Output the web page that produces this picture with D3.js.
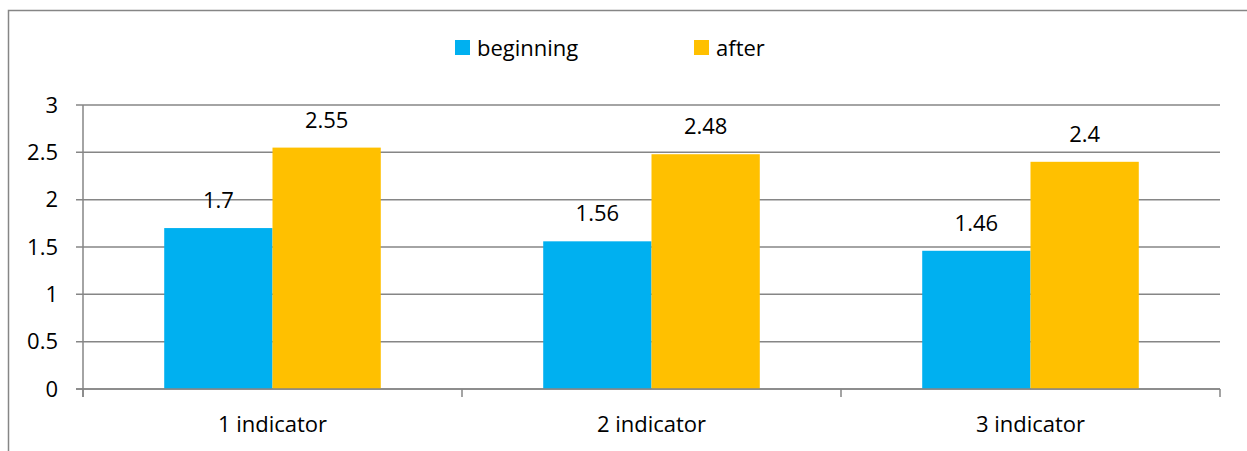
<!DOCTYPE html>
<html>
<head>
<meta charset="utf-8">
<script src="https://cdn.jsdelivr.net/npm/d3@7"></script>
<style>
  body { margin: 0; background: #fff; }
  text { font-family: "Open Sans", Lato, sans-serif; fill: #000; }
</style>
</head>
<body>
<script>
"use strict"

// chart data
const categories = ["1 indicator", "2 indicator", "3 indicator"]
const seriesNames = ["beginning", "after"]
const beginning = [1.7, 1.56, 1.46]
const after = [2.55, 2.48, 2.4]
const yTicks = [0, 0.5, 1, 1.5, 2, 2.5, 3]
const colors = ["#00b0f0", "#ffc000"]

const W = 1247, H = 451
const plot = { left: 83, right: 1220, top: 105, bottom: 389 }
const gridColor = "#868686"
const fontSize = "22px"

const svg = d3.select("body").append("svg")
  .attr("width", W)
  .attr("height", H)

// outer frame (only left and top show in the crop)
svg.append("path")
  .attr("d", `M8.5,${H} V10.5 H${W}`)
  .attr("fill", "none")
  .attr("stroke", gridColor)
  .attr("stroke-width", 1.5)

const x0 = d3.scaleBand().domain(categories).range([plot.left, plot.right]).paddingInner(0).paddingOuter(0)
const x1 = d3.scaleBand().domain(seriesNames).range([0, x0.bandwidth()]).paddingInner(0).paddingOuter(0.75)
const y = d3.scaleLinear().domain([0, 3]).range([plot.bottom, plot.top])

// gridlines
svg.append("g").selectAll("line")
  .data(yTicks)
  .join("line")
  .attr("x1", plot.left - 7)
  .attr("x2", plot.right)
  .attr("y1", d => y(d))
  .attr("y2", d => y(d))
  .attr("stroke", gridColor)
  .attr("stroke-width", 1.5)

// y axis line
svg.append("line")
  .attr("x1", plot.left).attr("x2", plot.left)
  .attr("y1", plot.top).attr("y2", plot.bottom + 8)
  .attr("stroke", gridColor).attr("stroke-width", 1.5)

// y tick labels
svg.append("g").selectAll("text")
  .data(yTicks)
  .join("text")
  .attr("x", 58)
  .attr("y", d => y(d))
  .attr("dy", "0.35em")
  .attr("text-anchor", "end")
  .style("font-size", fontSize)
  .text(d => d)

// category boundary ticks
const bounds = categories.map(c => x0(c)).concat([plot.right])
svg.append("g").selectAll("line")
  .data(bounds)
  .join("line")
  .attr("x1", d => d).attr("x2", d => d)
  .attr("y1", plot.bottom).attr("y2", plot.bottom + 8)
  .attr("stroke", gridColor).attr("stroke-width", 1.5)

// bars
const rows = categories.map((c, i) => ({ c, vals: [beginning[i], after[i]] }))
const groups = svg.append("g").selectAll("g")
  .data(rows)
  .join("g")
  .attr("transform", d => `translate(${x0(d.c)},0)`)

groups.selectAll("rect")
  .data(d => d.vals.map((v, k) => ({ v, k })))
  .join("rect")
  .attr("x", d => x1(seriesNames[d.k]))
  .attr("width", x1.bandwidth())
  .attr("y", d => y(d.v))
  .attr("height", d => y(0) - y(d.v))
  .attr("fill", d => colors[d.k])

groups.selectAll("text")
  .data(d => d.vals.map((v, k) => ({ v, k })))
  .join("text")
  .attr("x", d => x1(seriesNames[d.k]) + x1.bandwidth() / 2)
  .attr("y", d => y(d.v) - 20)
  .attr("text-anchor", "middle")
  .style("font-size", fontSize)
  .text(d => d.v)

// zero line on top of bars
svg.append("line")
  .attr("x1", plot.left - 7).attr("x2", plot.right)
  .attr("y1", y(0)).attr("y2", y(0))
  .attr("stroke", gridColor).attr("stroke-width", 1.5)

// category labels
svg.append("g").selectAll("text")
  .data(categories)
  .join("text")
  .attr("x", d => x0(d) + x0.bandwidth() / 2)
  .attr("y", 432)
  .attr("text-anchor", "middle")
  .style("font-size", fontSize)
  .text(d => d)

// legend
const legendX = [455, 694]
const legend = svg.append("g").selectAll("g")
  .data(seriesNames)
  .join("g")
  .attr("transform", (d, i) => `translate(${legendX[i]},40)`)
legend.append("rect")
  .attr("width", 15).attr("height", 15)
  .attr("fill", (d, i) => colors[i])
legend.append("text")
  .attr("x", 22).attr("y", 16)
  .style("font-size", fontSize)
  .text(d => d)
</script>
</body>
</html>
